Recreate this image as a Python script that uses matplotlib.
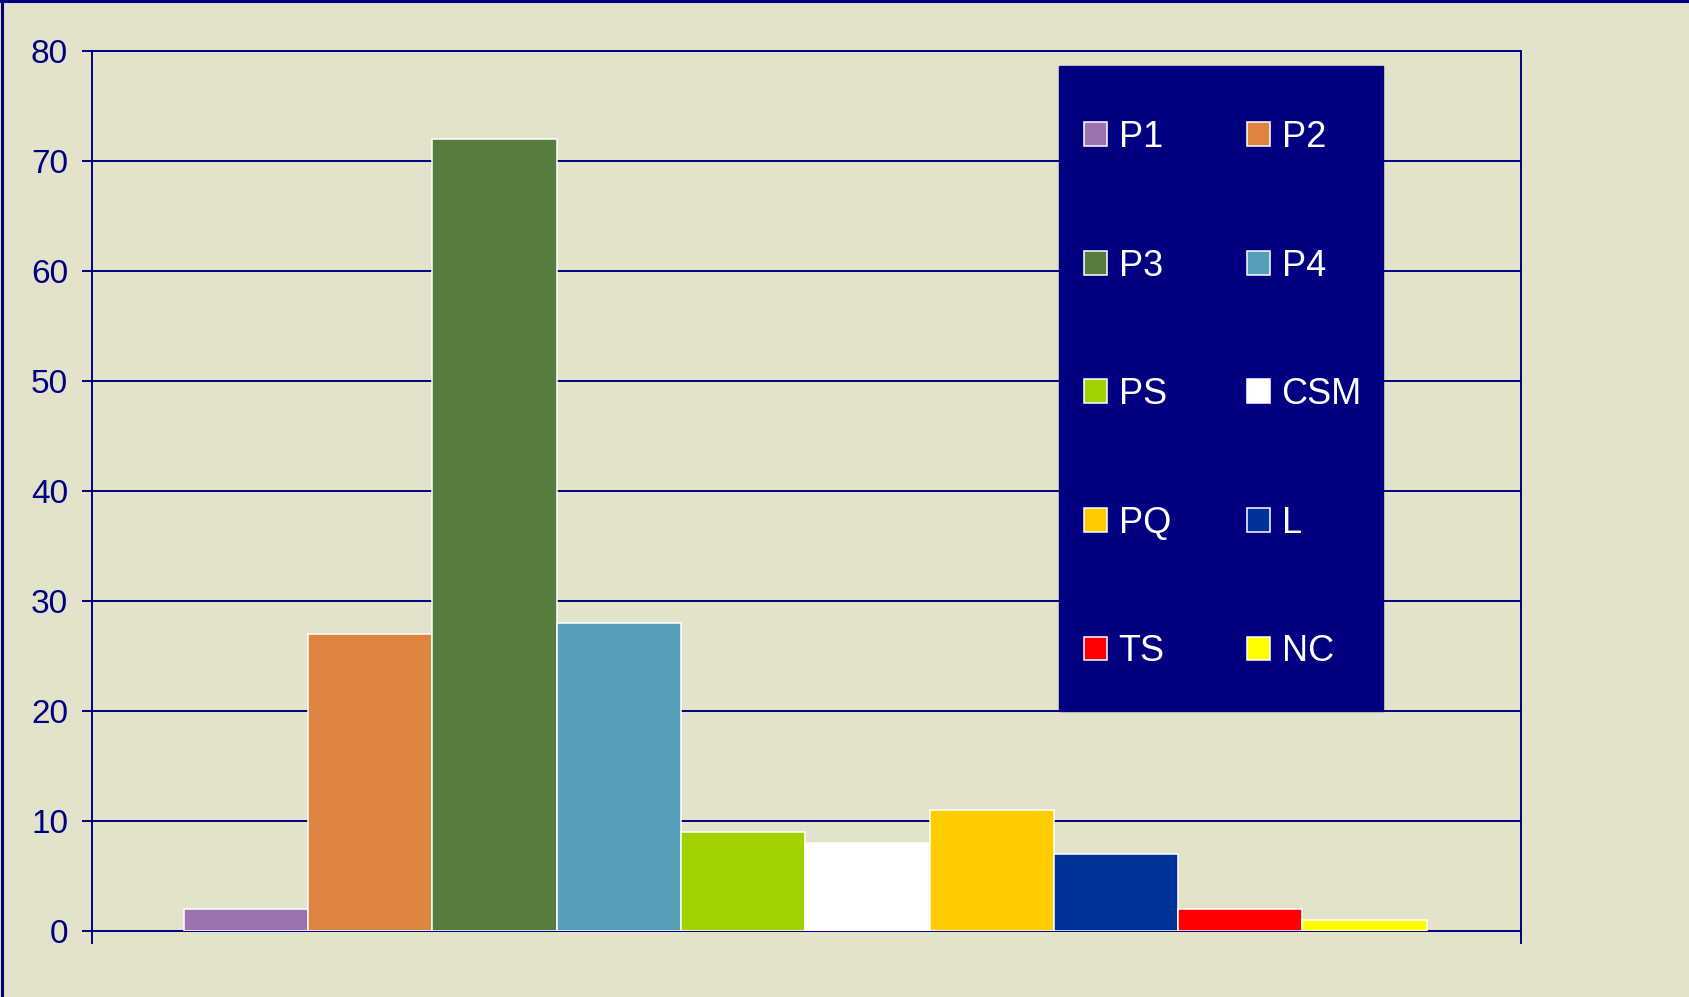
# Grafico de barras por categoria (estilo Excel)

import numpy as np
import matplotlib

matplotlib.use("Agg")
import matplotlib.pyplot as plt
from matplotlib.patches import Rectangle
from matplotlib.lines import Line2D


# DATOS
CATEGORIAS = ["P1", "P2", "P3", "P4", "PS", "CSM", "PQ", "L", "TS", "NC"]
VALORES = [2, 27, 72, 28, 9, 8, 11, 7, 2, 1]
COLORES = [
    "#9A73B0",
    "#DD8441",
    "#587B3E",
    "#559EB8",
    "#A0D100",
    "#FFFFFF",
    "#FFCC00",
    "#003399",
    "#FF0000",
    "#FFFF00",
]
Y_TICKS = [0, 10, 20, 30, 40, 50, 60, 70, 80]

FONDO = "#E3E3CC"
AZUL = "#000080"

plt.rcParams["font.family"] = ["Liberation Sans", "DejaVu Sans"]

fig = plt.figure(figsize=(16.9, 9.97), dpi=100, facecolor=FONDO)
ax = fig.add_axes([0.05444, 0.0662, 0.8456, 0.8826])
ax.set_facecolor(FONDO)

# Barras (una serie por categoria)
x = np.arange(len(CATEGORIAS))
barras = []
for i, (cat, val, col) in enumerate(zip(CATEGORIAS, VALORES, COLORES)):
    b = ax.bar(
        x[i],
        val,
        width=1.0,
        align="edge",
        color=col,
        edgecolor="white",
        linewidth=1.1,
        label=cat,
        zorder=3,
    )
    barras.append(b)

ax.set_xlim(-0.74, len(CATEGORIAS) + 0.76)
ax.set_ylim(0, 80)
ax.set_yticks(Y_TICKS)
ax.set_xticks([-0.74, len(CATEGORIAS) + 0.76])
ax.set_xticklabels([])

ax.set_axisbelow(True)
ax.yaxis.grid(True, color=AZUL, linewidth=1.4)

for s in ax.spines.values():
    s.set_color(AZUL)
    s.set_linewidth(1.4)

ax.tick_params(
    axis="y",
    colors=AZUL,
    labelcolor=AZUL,
    labelsize=24,
    length=7.2,
    width=1.4,
    pad=10,
)
ax.tick_params(axis="x", colors=AZUL, length=9, width=1.4)

# Caja de la leyenda
caja = Rectangle(
    (0.6269, 0.2869),
    0.1914,
    0.6472,
    transform=fig.transFigure,
    facecolor=AZUL,
    edgecolor=AZUL,
    zorder=4,
    clip_on=False,
)
ax.add_patch(caja)

# Orden por filas: P1 P2 / P3 P4 / ...
orden = [0, 2, 4, 6, 8, 1, 3, 5, 7, 9]
handles = [barras[i] for i in orden]
labels = [CATEGORIAS[i] for i in orden]
leg = ax.legend(
    handles,
    labels,
    ncol=2,
    loc="upper left",
    bbox_to_anchor=(0.6414, 0.8796),
    bbox_transform=fig.transFigure,
    frameon=False,
    fontsize=26,
    labelcolor="white",
    handlelength=0.64,
    handleheight=0.64,
    handletextpad=0.32,
    labelspacing=2.59,
    columnspacing=2.1,
    borderpad=0,
    borderaxespad=0,
)
leg.set_zorder(5)

# Borde de la figura (izquierda y arriba)
fig.add_artist(Line2D([0.001, 0.001], [0, 1], color=AZUL, linewidth=2.2))
fig.add_artist(Line2D([0, 1], [0.9985, 0.9985], color=AZUL, linewidth=2.2))

fig.savefig("out.png", dpi=100, facecolor=FONDO)
